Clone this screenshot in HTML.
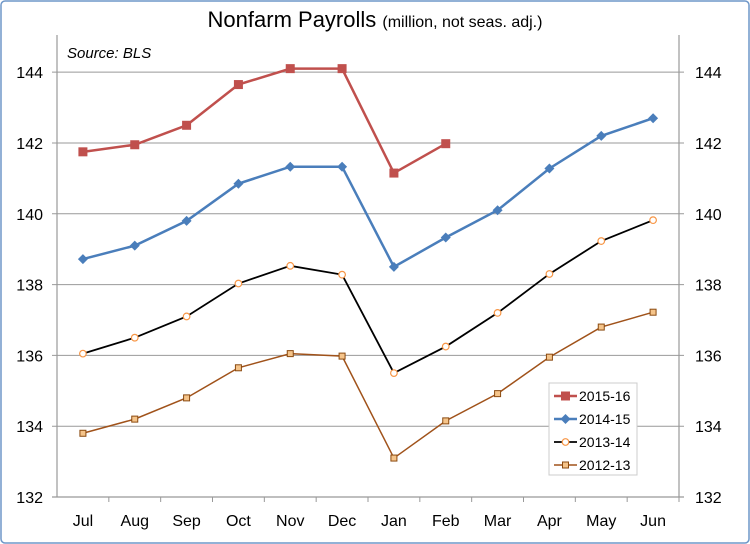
<!DOCTYPE html>
<html><head><meta charset="utf-8"><style>
body{margin:0;background:#fff}
svg{display:block;font-family:"Liberation Sans",Arial,sans-serif}
</style></head><body>
<svg id="c" width="750" height="544" viewBox="0 0 750 544">
<rect x="1" y="1" width="748" height="542" rx="4" fill="#fff" stroke="#6f97c8" stroke-width="1.5"/>
<text x="375" y="27" text-anchor="middle" font-size="22">Nonfarm Payrolls <tspan font-size="16">(million, not seas. adj.)</tspan></text>
<g id="grid"></g><g id="axes"></g><g id="series"></g>
<text x="67" y="58" font-size="15" font-style="italic">Source: BLS</text>
<g id="legend"></g>
</svg>
<script>
const months=["Jul","Aug","Sep","Oct","Nov","Dec","Jan","Feb","Mar","Apr","May","Jun"];
const yTicks=[132,134,136,138,140,142,144];
const s2015=[141.75,141.95,142.5,143.65,144.1,144.1,141.15,141.98];
const s2014=[138.72,139.1,139.8,140.85,141.33,141.33,138.5,139.33,140.1,141.28,142.2,142.7];
const s2013=[136.05,136.5,137.1,138.03,138.53,138.28,135.5,136.25,137.2,138.3,139.23,139.82];
const s2012=[133.8,134.2,134.8,135.65,136.05,135.98,133.1,134.15,134.92,135.95,136.8,137.22];
const names=["2015-16","2014-15","2013-14","2012-13"];
const L=57,R=679,T=35,B=497,ymin=132,ymax=145.05;
const NS="http://www.w3.org/2000/svg";
const x=i=>L+(i+0.5)*(R-L)/months.length;
const y=v=>B-(v-ymin)/(ymax-ymin)*(B-T);
function mk(tag,at,parent){const e=document.createElementNS(NS,tag);for(const k in at)e.setAttribute(k,at[k]);document.getElementById(parent).appendChild(e);return e;}
yTicks.forEach(v=>{
 if(v>ymin){const g=mk("line",{x1:52,x2:684,y1:y(v),y2:y(v),stroke:"#999","stroke-width":1},"grid");
 
 }
 const t1=mk("text",{x:43,y:y(v)+6,"text-anchor":"end","font-size":16},"axes");t1.textContent=v;
 
 
 const t2=mk("text",{x:695,y:y(v)+6,"font-size":16},"axes");t2.textContent=v;
 
 
});
[[L,T,L,B],[R,T,R,B],[52,B,684,B]].forEach((a,i)=>{const l=mk("line",{x1:a[0],y1:a[1],x2:a[2],y2:a[3],stroke:"#999","stroke-width":1.2},"axes");
 
 });
months.forEach((m,i)=>{
 const tk=mk("line",{x1:L+(i+1)*(R-L)/12,x2:L+(i+1)*(R-L)/12,y1:B,y2:B+5,stroke:"#999"},"axes");
 
 
 const t=mk("text",{x:x(i),y:B+29,"text-anchor":"middle","font-size":16},"axes");t.textContent=m;
 
 
});
function marker(kind,cx,cy,parent){
 let e;
 if(kind=="sq")e=mk("rect",{x:cx-4.5,y:cy-4.5,width:9,height:9,fill:"#c0504d"},parent);
 else if(kind=="dia")e=mk("path",{d:`M${cx} ${cy-5}L${cx+5} ${cy}L${cx} ${cy+5}L${cx-5} ${cy}Z`,fill:"#4a7ebb"},parent);
 else if(kind=="circ")e=mk("circle",{cx:cx,cy:cy,r:3.3,fill:"#fff",stroke:"#f79646","stroke-width":1.2},parent);
 else e=mk("rect",{x:cx-3,y:cy-3,width:6,height:6,fill:"#f5c48a",stroke:"#8a4a10","stroke-width":1},parent);
 return e;
}
const specs=[[s2015,"#c0504d",2.5,"sq"],[s2014,"#4a7ebb",2.5,"dia"],[s2013,"#000",1.8,"circ"],[s2012,"#a0521a",1.5,"sqs"]];
specs.forEach((sp,k)=>{
 const d=sp[0].map((v,i)=>(i?"L":"M")+x(i)+" "+y(v)).join("");
 const p=mk("path",{d:d,fill:"none",stroke:sp[1],"stroke-width":sp[2]},"series");
 
 
 sp[0].forEach((v,i)=>{const m=marker(sp[3],x(i),y(v),"series");
  
  });
});
const lb=mk("rect",{x:549,y:383,width:88,height:92,fill:"#fff",stroke:"#ccc"},"legend");


specs.forEach((sp,k)=>{
 const yy=396+k*23;
 const l=mk("line",{x1:554,x2:577,y1:yy,y2:yy,stroke:sp[1],"stroke-width":sp[2]},"legend");
 
 
 const m=marker(sp[3],565.5,yy,"legend");
 
 
 const t=mk("text",{x:579,y:yy+5,"font-size":14},"legend");t.textContent=names[k];
 
 
});
</script>
</body></html>
